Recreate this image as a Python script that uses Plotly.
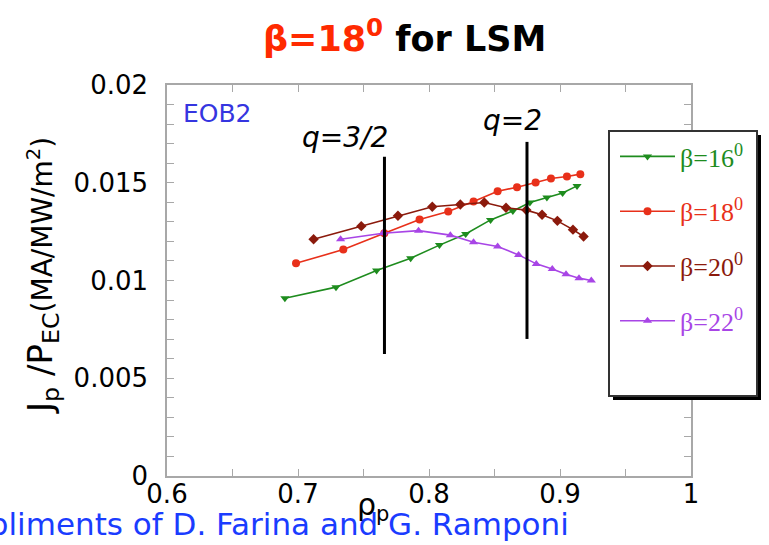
import plotly.graph_objects as go

# ---------------- data ----------------
rho_16 = [0.690, 0.729, 0.760, 0.786, 0.808, 0.828, 0.847, 0.864, 0.877, 0.890, 0.902, 0.913]
j_16 = [0.00909, 0.00966, 0.01051, 0.01114, 0.01181, 0.01238, 0.01310, 0.01356, 0.01399, 0.01424, 0.01448, 0.01484]

rho_18 = [0.6985, 0.7346, 0.7659, 0.7928, 0.8147, 0.834, 0.8524, 0.8672, 0.8814, 0.8931, 0.9053, 0.9155]
j_18 = [0.01088, 0.01158, 0.01242, 0.01312, 0.01353, 0.01404, 0.01457, 0.01477, 0.01501, 0.01522, 0.01532, 0.01544]

rho_20 = [0.7119, 0.7483, 0.7763, 0.8025, 0.8239, 0.8422, 0.8588, 0.8743, 0.8863, 0.898, 0.9099, 0.918]
j_20 = [0.01211, 0.01278, 0.01331, 0.01377, 0.01389, 0.01399, 0.01372, 0.01360, 0.01336, 0.01305, 0.01260, 0.01225]

rho_22 = [0.7325, 0.7649, 0.792, 0.8163, 0.834, 0.8524, 0.8684, 0.8819, 0.8941, 0.9046, 0.9145, 0.9239]
j_22 = [0.01211, 0.01242, 0.01255, 0.01232, 0.01196, 0.01174, 0.01131, 0.01085, 0.01059, 0.01032, 0.01012, 0.01000]

q32_x = [0.766, 0.766]
q32_y = [0.00624, 0.01633]
q2_x = [0.8748, 0.8748]
q2_y = [0.00701, 0.01709]

series_names = ["β=16<sup>0</sup>", "β=18<sup>0</sup>", "β=20<sup>0</sup>", "β=22<sup>0</sup>"]
series_colors = ["#1e8c1e", "#e8301a", "#8b1a0c", "#a845e6"]
series_symbols = ["triangle-down", "circle", "diamond", "triangle-up"]

x_ticks = [0.6, 0.7, 0.8, 0.9, 1.0]
y_ticks = [0, 0.005, 0.01, 0.015, 0.02]

# ---------------- figure ----------------
fig = go.Figure()

for xs, ys, name, col, sym in zip(
    [rho_16, rho_18, rho_20, rho_22],
    [j_16, j_18, j_20, j_22],
    series_names, series_colors, series_symbols,
):
    fig.add_trace(go.Scatter(
        x=xs, y=ys, mode="lines+markers",
        name=f'<span style="color:{col}">{name}</span>',
        legendgroup=name,
        line=dict(color=col, width=1.6),
        marker=dict(symbol=sym, size=8, color=col),
    ))

for xs, ys in [(q32_x, q32_y), (q2_x, q2_y)]:
    fig.add_trace(go.Scatter(
        x=xs, y=ys, mode="lines", showlegend=False,
        line=dict(color="black", width=3), hoverinfo="skip",
    ))

L, R, T, B = 167, 78, 85, 69
W, H = 769, 545
pw, ph = W - L - R, H - T - B


def px(xp):
    return (xp - L) / pw


def py(yp):
    return (H - B - yp) / ph


axis_common = dict(
    showline=True, linecolor="#a8a8a8", linewidth=1.5, mirror="ticks",
    ticks="inside", ticklen=7, tickcolor="#a8a8a8", tickwidth=1,
    showgrid=False, zeroline=False,
    tickfont=dict(family="DejaVu Sans", size=26, color="black"),
)

fig.update_xaxes(range=[0.6, 1.0], tickvals=x_ticks,
                 minor=dict(dtick=0.05, ticks="inside", ticklen=7, tickcolor="#a8a8a8"),
                 ticklabelstandoff=-6, **axis_common)
fig.update_yaxes(range=[0, 0.02], tickvals=y_ticks,
                 minor=dict(dtick=0.001, ticks="inside", ticklen=7, tickcolor="#a8a8a8"),
                 ticklabelstandoff=12, **axis_common)

# legend box (shadow + white frame)
bx0, bx1, by0, by1 = 609, 757, 131, 396
fig.add_shape(type="rect", xref="paper", yref="paper", layer="above",
              x0=px(bx0 + 4), x1=px(bx1 + 4), y0=py(by1 + 4), y1=py(by0 + 4),
              fillcolor="black", line=dict(width=0))
fig.add_shape(type="rect", xref="paper", yref="paper", layer="above",
              x0=px(bx0), x1=px(bx1), y0=py(by1), y1=py(by0),
              fillcolor="white", line=dict(color="#333333", width=2))

annotations = [
    dict(text="<b><span style='color:#ff2a00'>β=18<sup>0</sup></span> for LSM</b>",
         x=px(404), y=py(36), font=dict(family="DejaVu Sans", size=35, color="black")),
    dict(text="EOB2", x=px(181), y=py(113), xanchor="left",
         font=dict(family="DejaVu Sans", size=25, color="#3535e0")),
    dict(text="<i>q=3/2</i>", x=px(345), y=py(137),
         font=dict(family="DejaVu Sans", size=28, color="black")),
    dict(text="<i>q=2</i>", x=px(512), y=py(120),
         font=dict(family="DejaVu Sans", size=28, color="black")),
    dict(text="Compliments of D. Farina and G. Ramponi", x=px(571), y=py(524), xanchor="right",
         font=dict(family="DejaVu Sans", size=31, color="#1a3cff")),
    dict(text="ρ<sub>p</sub>", x=px(373), y=py(506),
         font=dict(family="DejaVu Sans", size=30, color="black")),
    dict(text="J<sub>p</sub> /P<sub>EC</sub><span style='font-size:28px'>(MA/MW/m<sup>2</sup>)</span>",
         x=px(42), y=py(276), textangle=-90,
         font=dict(family="DejaVu Sans", size=34, color="black")),
]
for a in annotations:
    a.setdefault("xanchor", "center")
    fig.add_annotation(xref="paper", yref="paper", showarrow=False, yanchor="middle", **a)

fig.update_layout(
    width=W, height=H,
    margin=dict(l=L, r=R, t=T, b=B),
    plot_bgcolor="white", paper_bgcolor="white",
    showlegend=True,
    legend=dict(
        x=px(615), y=py(133), xanchor="left", yanchor="top",
        bgcolor="rgba(0,0,0,0)", borderwidth=0,
        font=dict(family="Liberation Serif", size=26),
        itemwidth=55, tracegroupgap=18,
    ),
)

fig.write_html("out.html")
